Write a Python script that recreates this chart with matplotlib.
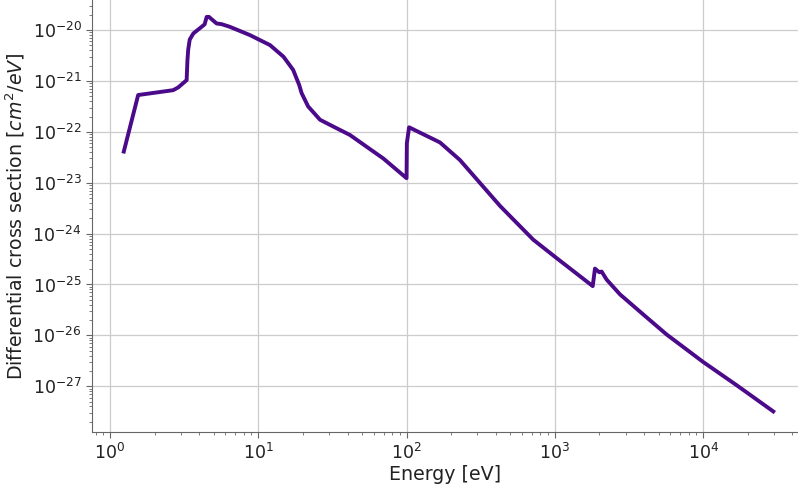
import matplotlib
matplotlib.use("Agg")
import matplotlib.pyplot as plt

# Energy [eV] and differential cross section [cm^2/eV]
energy = [1.24, 1.55, 2.67, 2.89, 3.29, 3.33, 3.37, 3.45, 3.65, 4.15,
          4.35, 4.49, 4.65, 5.24, 5.66, 6.44, 8.79, 12.0, 14.8, 17.2,
          18.9, 19.6, 21.7, 26.1, 32.1, 41.5, 53.8, 69.7, 100.0, 100.5,
          104.0, 168.0, 229.0, 427.0, 715.0, 1028.0, 1800.0, 1864.0,
          1995.0, 2066.0, 2233.0, 2748.0, 3948.0, 5672.0, 10000.0,
          16800.0, 29700.0]
sigma = [4.1e-23, 5.3e-22, 6.6e-22, 7.5e-22, 1.04e-21, 2.5e-21, 4.1e-21,
         6.5e-21, 8.6e-21, 1.16e-20, 1.3e-20, 1.82e-20, 1.82e-20, 1.35e-20,
         1.31e-20, 1.16e-20, 7.98e-21, 5.08e-21, 3.0e-21, 1.65e-21,
         8.3e-22, 5.8e-22, 3.16e-22, 1.73e-22, 1.27e-22, 8.7e-23, 5.1e-23,
         3.0e-23, 1.23e-23, 6.0e-23, 1.23e-22, 6.2e-23, 2.8e-23, 3.5e-24,
         7.6e-25, 3.3e-25, 9.3e-26, 2.05e-25, 1.74e-25, 1.8e-25, 1.25e-25,
         6.4e-26, 2.57e-26, 1.04e-26, 3.0e-27, 1.05e-27, 3.2e-28]

fig = plt.figure(figsize=(7.98, 4.87), dpi=100)
ax = fig.add_axes([0.1153, 0.1129, 0.8847, 0.887])

ax.plot(energy, sigma, color="#4b0a8a", lw=2.8)
ax.set_xscale("log")
ax.set_yscale("log")
ax.set_xlim(0.757, 43600)
ax.set_ylim(1.26e-28, 3.9e-20)

ax.grid(True, which="major", color="#cccccc", lw=0.9)
ax.set_axisbelow(True)
for side in ("top", "right"):
    ax.spines[side].set_visible(False)
for side in ("left", "bottom"):
    ax.spines[side].set_color("#666666")
ax.tick_params(which="both", colors="#666666", labelcolor="#222222")
ax.tick_params(which="major", labelsize=12.5, length=4)
ax.tick_params(which="minor", length=2.5)

ax.set_xlabel("Energy [eV]", fontsize=13.7, color="#222222", labelpad=2)
ax.set_ylabel("Differential cross section [$cm^2/eV$]", fontsize=13.7,
              color="#222222", labelpad=4)

fig.savefig("out.png", dpi=100)
